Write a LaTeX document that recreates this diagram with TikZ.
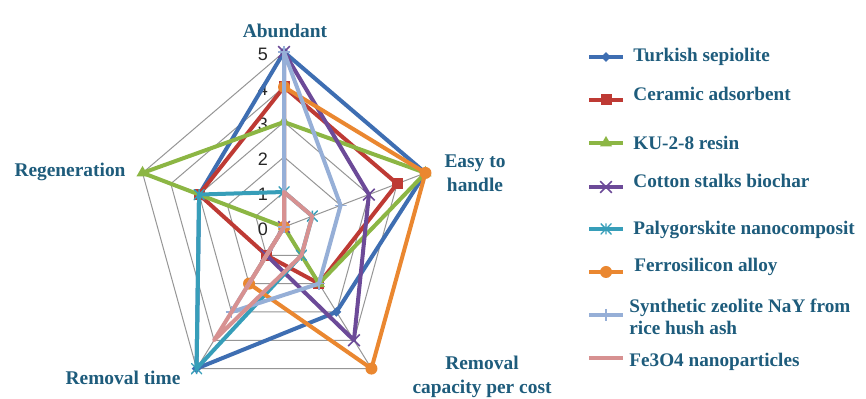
\documentclass[tikz,border=0pt]{standalone}
\usepackage{fontspec}
\setmainfont{Liberation Serif}
\newfontfamily\numfont{Liberation Sans}
\usetikzlibrary{shapes.geometric,shapes.misc}
\definecolor{labteal}{RGB}{30,92,124}
\definecolor{gridgray}{RGB}{150,150,150}
\definecolor{csep}{RGB}{62,110,178}
\definecolor{ccer}{RGB}{190,58,52}
\definecolor{cku}{RGB}{140,182,68}
\definecolor{ccot}{RGB}{108,74,152}
\definecolor{cpal}{RGB}{55,158,185}
\definecolor{cfer}{RGB}{234,135,48}
\definecolor{czeo}{RGB}{150,175,215}
\definecolor{cfeo}{RGB}{215,145,145}
\tikzset{
  gridln/.style={gridgray, line width=0.5pt},
  serln/.style={line width=2pt, line join=round},
  axlab/.style={labteal, font=\bfseries\fontsize{9.7}{12}\selectfont, align=center},
  leglab/.style={labteal, font=\bfseries\fontsize{9.6}{11.2}\selectfont, anchor=west, align=left, inner sep=0pt},
  numlab/.style={black!85, font=\numfont\fontsize{9}{10}\selectfont},
  mkdia/.style={diamond, fill, inner sep=0pt, minimum size=5pt},
  mksq/.style={rectangle, fill, inner sep=0pt, minimum size=5.5pt},
  mktri/.style={regular polygon, regular polygon sides=3, fill, inner sep=0pt, minimum size=7pt},
  mkx/.style={cross out, draw, line width=0.8pt, inner sep=0pt, minimum size=5pt},
  mkast/.style={rectangle, inner sep=0pt, minimum size=5.5pt,
    path picture={\draw[line width=0.7pt]
      (path picture bounding box.north west) -- (path picture bounding box.south east)
      (path picture bounding box.north east) -- (path picture bounding box.south west)
      (path picture bounding box.north) -- (path picture bounding box.south);}},
  mkdot/.style={circle, fill, inner sep=0pt, minimum size=6pt},
  mkplus/.style={rectangle, inner sep=0pt, minimum size=6pt,
    path picture={\draw[line width=0.7pt]
      (path picture bounding box.north) -- (path picture bounding box.south)
      (path picture bounding box.west) -- (path picture bounding box.east);}},
  mknone/.style={shape=coordinate},
}

\begin{document}
\begin{tikzpicture}[x=0.5pt, y=0.5pt]
  \useasboundingbox (0,0) rectangle (866,-399);
  \fill[white] (0,0) rectangle (866,-399);

  % radar grid
  \begin{scope}[shift={(284,-227)}, xscale=0.85]
    \foreach \r in {1,...,5}
      \draw[gridln] (90:35*\r) -- (18:35*\r) -- (-54:35*\r) -- (-126:35*\r) -- (162:35*\r) -- cycle;
    \foreach \a in {90,18,-54,-126,162}
      \draw[gridln] (0,0) -- (\a:175);
  \end{scope}
  \foreach \v in {0,...,5}
    \node[numlab] (num\v) at (263,35*\v-229) {\v};

  % series: Abundant, Easy, Removal capacity, Removal time, Regeneration
  \begin{scope}[shift={(284,-227)}, xscale=0.85]
    \foreach \i/\col/\mk/\va/\ve/\vr/\vt/\vg in {
        1/csep/mkdia/5/5/3/5/3,
        2/ccer/mksq/4/4/2/1/3,
        3/cku/mktri/3/5/2/0/5,
        4/ccot/mkx/5/3/4/1/0,
        5/cpal/mkast/1/1/1/5/3,
        6/cfer/mkdot/4/5/5/2/0,
        7/czeo/mkplus/5/2/2/3/0,
        8/cfeo/mknone/1/1/1/4/0}{
      \draw[serln, \col] (90:35*\va) -- (18:35*\ve) -- (-54:35*\vr) -- (-126:35*\vt) -- (162:35*\vg) -- cycle;
      \foreach \a/\v [count=\k] in {90/\va, 18/\ve, -54/\vr, -126/\vt, 162/\vg}
        \node[\mk, \col] (s\i-\k) at (\a:35*\v) {};
    }
  \end{scope}

  % axis labels
  \node[axlab] (abund) at (285,-31) {Abundant};
  \node[axlab] (easy) at (475,-173) {Easy to\\handle};
  \node[axlab] (remcap) at (482,-377) {Removal\\capacity per cost};
  \node[axlab] (remtime) at (123,-378) {Removal time};
  \node[axlab] (regen) at (70,-172) {Regeneration};

  % legend
  \foreach \col/\mk/\ly/\tx/\ty/\txt in {
      csep/mkdia/57/633/57/{Turkish sepiolite},
      ccer/mksq/100/633/94/{Ceramic adsorbent},
      cku/mktri/143/633/143/{KU-2-8 resin},
      ccot/mkx/187/633/181/{Cotton stalks biochar},
      cpal/mkast/229/633/230/{Palygorskite nanocomposit},
      cfer/mkdot/272/634/267/{Ferrosilicon alloy},
      czeo/mkplus/315/629/317/{Synthetic zeolite NaY from\\rice hush ash},
      cfeo/mknone/358/629/362/{Fe3O4 nanoparticles}}{
    \draw[line width=2.2pt, \col] (589,-\ly) -- (623,-\ly);
    \node[\mk, \col] (k\col) at (606,-\ly) {};
    \node[leglab] (t\col) at (\tx,-\ty) {\txt};
  }
\end{tikzpicture}
\end{document}
